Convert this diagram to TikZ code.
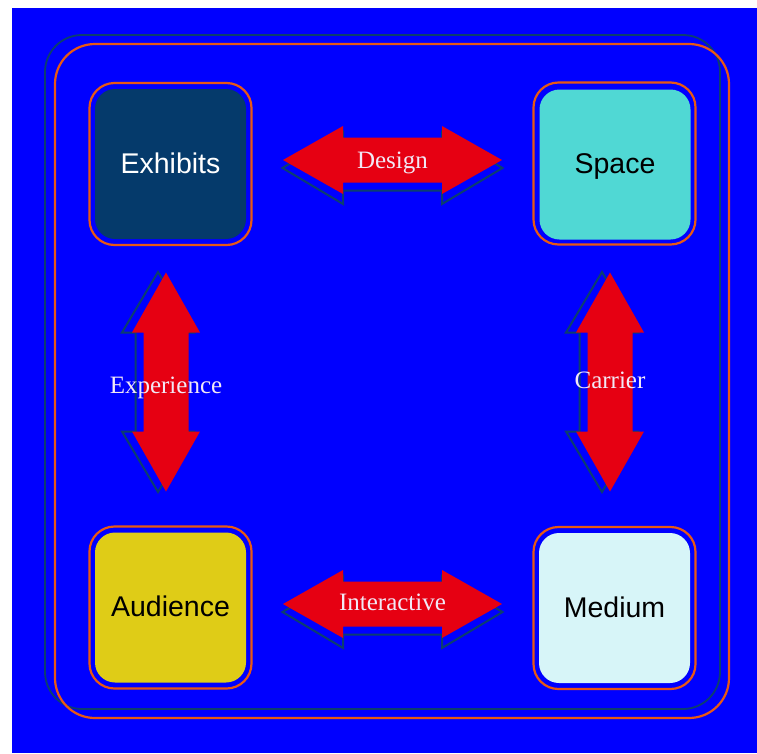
\documentclass[tikz,border=0pt]{standalone}
\usepackage{fontspec}
\setmainfont{Liberation Serif}
\setsansfont{Liberation Sans}
\definecolor{bgblue}{RGB}{0,0,255}
\definecolor{navyline}{RGB}{12,62,112}
\definecolor{frameorange}{RGB}{232,88,20}
\definecolor{arrowred}{RGB}{230,0,18}
\definecolor{labelwhite}{RGB}{242,232,245}
\definecolor{exhibitsfill}{RGB}{5,58,107}
\definecolor{spacefill}{RGB}{80,216,212}
\definecolor{audiencefill}{RGB}{223,204,23}
\definecolor{mediumfill}{RGB}{215,245,248}
\begin{document}
\begin{tikzpicture}[x=1pt,y=-1pt,
  tile/.style={rounded corners=20pt, minimum width=151pt, minimum height=150pt,
    inner sep=0pt, text height=18pt, text depth=0pt,
    font=\sffamily\fontsize{28.5}{31}\selectfont},
  tileframe/.style={draw=frameorange, line width=2.2pt, rounded corners=25pt,
    minimum width=162pt, minimum height=162pt, inner sep=0pt},
  arrowlabel/.style={anchor=base, text=labelwhite, inner sep=0pt,
    font=\rmfamily\fontsize{25}{28}\selectfont},
  shadowline/.style={draw=navyline, line width=2pt, line join=miter},
  dblarrow/.pic={
    % outlined shadow, slightly below the filled arrow
    \draw[shadowline] (-110,8) -- (-49.5,-28) -- (-49.5,-14.5) -- (49.5,-14.5)
      -- (49.5,-28) -- (110,8) -- (49.5,44) -- (49.5,30.5) -- (-49.5,30.5)
      -- (-49.5,44) -- cycle;
    % filled double arrow
    \fill[arrowred] (-109.5,0) -- (-49.5,-34) -- (-49.5,-22.5) -- (49.5,-22.5)
      -- (49.5,-34) -- (109.5,0) -- (49.5,34) -- (49.5,22.5) -- (-49.5,22.5)
      -- (-49.5,34) -- cycle;
  }]
  \useasboundingbox (0,0) rectangle (757,753);
  \fill[white] (0,0) rectangle (757,753);
  \fill[bgblue] (12,8) rectangle (757,753);

  % outer frames
  \draw[navyline, line width=1.8pt, rounded corners=37pt] (45,35) rectangle (720,709);
  \draw[frameorange, line width=2.2pt, rounded corners=40pt] (55,44) rectangle (729,718);

  % the four tiles
  \node[tile, fill=exhibitsfill, text=white] (exhibits) at (170.5,164) {Exhibits};
  \node[tile, fill=spacefill, text=black] (space) at (615,164.5) {Space};
  \node[tile, fill=audiencefill, text=black] (audience) at (170.5,607.5) {Audience};
  \node[tile, fill=mediumfill, text=black] (medium) at (614.5,608) {Medium};
  \node[tileframe] (exhibitsframe) at (170.5,164) {};
  \node[tileframe] (spaceframe) at (614.5,163.5) {};
  \node[tileframe] (audienceframe) at (170.5,607.5) {};
  \node[tileframe] (mediumframe) at (614.5,608) {};

  % double arrows between the tiles
  \pic at (392.5,160) {dblarrow};
  \pic at (392.5,604) {dblarrow};
  \pic[rotate=-90] at (166,382) {dblarrow};
  \pic[rotate=-90] at (610,382) {dblarrow};

  \node[arrowlabel] (design) at (392.5,168) {Design};
  \node[arrowlabel] (interactive) at (392.5,610) {Interactive};
  \node[arrowlabel] (experience) at (166,393) {Experience};
  \node[arrowlabel] (carrier) at (610,388) {Carrier};
\end{tikzpicture}
\end{document}
